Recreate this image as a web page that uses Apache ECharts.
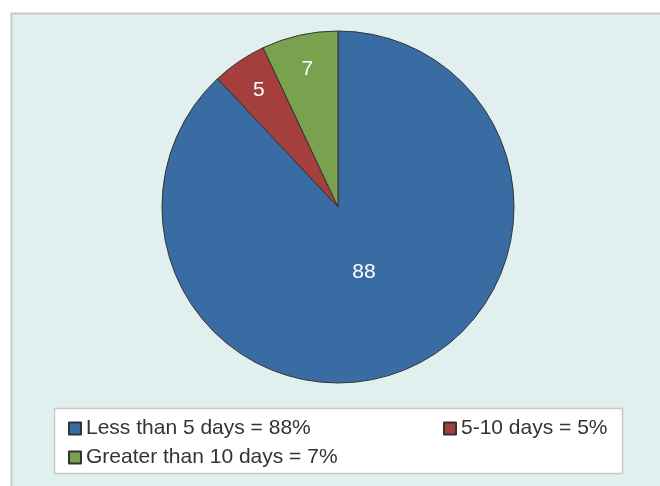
<!DOCTYPE html>
<html>
<head>
<meta charset="utf-8">
<script src="https://cdn.jsdelivr.net/npm/echarts@6/dist/echarts.min.js"></script>
<style>
  html, body { margin: 0; padding: 0; background: #ffffff; }
  #chart { width: 660px; height: 486px; }
</style>
</head>
<body>
<div id="chart"></div>
<script>
// 数据
const categories = ['Less than 5 days', '5-10 days', 'Greater than 10 days'];
const values = [88, 5, 7];
const legendNames = ['Less than 5 days = 88%', '5-10 days = 5%', 'Greater than 10 days = 7%'];
const sliceColors = ['#3a6ca4', '#a53f3e', '#7aa14e'];

// 饼图位置 (px)
const CX = 338, CY = 207, R = 176;
const total = values.reduce((a, b) => a + b, 0);

function labelPos(idx) {
    let before = 0;
    for (let i = 0; i < idx; i++) before += values[i];
    const mid = (before + values[idx] / 2) / total * Math.PI * 2;
    const frac = values[idx] / total > 0.5 ? 0.4 : 0.8;
    return { x: CX + frac * R * Math.sin(mid), y: CY - frac * R * Math.cos(mid) };
}

const chart = echarts.init(document.getElementById('chart'));
const legendText = { fontFamily: 'Liberation Sans', fontSize: 21, color: '#333333', lineHeight: 21 };

chart.setOption({
    animation: false,
    graphic: [
        { type: 'rect', z: -10, shape: { x: 11.5, y: 13.5, width: 700, height: 500 },
          style: { fill: '#e1f0ef', stroke: '#c6c9c9', lineWidth: 2 } },
        { type: 'rect', z: -5, shape: { x: 54.5, y: 408.5, width: 568, height: 65 },
          style: { fill: '#ffffff', stroke: '#c8c8c8', lineWidth: 1.5 } }
    ],
    legend: [
        {
            orient: 'vertical', left: 68, top: 418, padding: 0,
            itemWidth: 12, itemHeight: 12, itemGap: 8, icon: 'rect',
            data: [legendNames[0], legendNames[2]],
            textStyle: legendText
        },
        {
            orient: 'vertical', left: 443, top: 418, padding: 0,
            itemWidth: 12, itemHeight: 12, itemGap: 8, icon: 'rect',
            data: [legendNames[1]],
            textStyle: legendText
        }
    ],
    series: [{
        type: 'pie',
        center: [CX, CY],
        radius: R,
        startAngle: 90,
        clockwise: true,
        silent: true,
        itemStyle: { borderColor: '#333333', borderWidth: 1 },
        label: {
            show: true, position: 'inside', formatter: p => values[p.dataIndex],
            color: '#ffffff', fontFamily: 'Liberation Sans', fontSize: 21
        },
        labelLine: { show: false },
        labelLayout: p => Object.assign(labelPos(p.dataIndex), { align: 'center', verticalAlign: 'middle' }),
        data: categories.map((c, i) => ({
            name: legendNames[i], value: values[i],
            itemStyle: { color: sliceColors[i] }
        }))
    }]
});
</script>
</body>
</html>
